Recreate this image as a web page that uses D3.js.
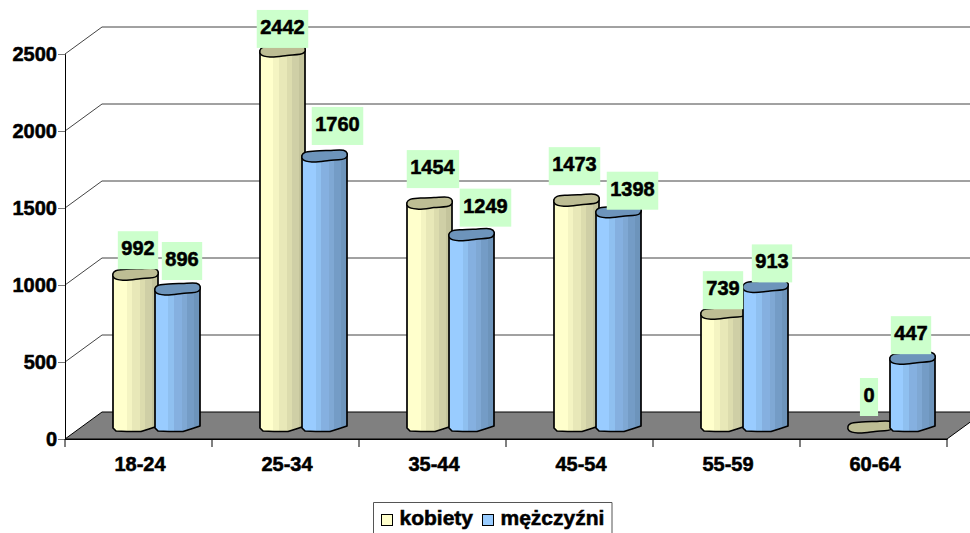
<!DOCTYPE html>
<html>
<head>
<meta charset="utf-8">
<script src="https://cdn.jsdelivr.net/npm/d3@7/dist/d3.min.js"></script>
<style>
  body { margin: 0; background: #fff; overflow: hidden; }
  text { font-family: "Liberation Sans", Arial, sans-serif; font-weight: bold; fill: #000; stroke: #000; stroke-width: .55px; }
</style>
</head>
<body>
<div id="chart"></div>
<script>
var categories = ["18-24", "25-34", "35-44", "45-54", "55-59", "60-64"];
var kobiety = [992, 2442, 1454, 1473, 739, 0];
var mezczyzni = [896, 1760, 1249, 1398, 913, 447];
var yTicks = [0, 500, 1000, 1500, 2000, 2500];
var seriesNames = ["kobiety", "mężczyźni"];

// hand placed labels in the original: shift from bar centre, gap above the cap
var labelShiftK = [3, 0.5, 3.5, -1.5, 0, -1];
var labelShiftM = [5, 13.5, 14.5, 14.5, 7, -1];
var labelGapK = [5, 3, 15, 15, 4, 11];
var labelGapM = [9, 11, 8, 2, 4, 4];

var width = 970, height = 533;
var depthX = 37, depthY = 27;

var svg = d3.select("#chart").append("svg")
    .attr("width", width)
    .attr("height", height);

var x0 = d3.scaleBand().domain(categories).range([65, 947]);
var x1 = d3.scaleBand().domain([0, 1]).range([48, 132]);
var y = d3.scaleLinear().domain([0, 2500]).range([439, 54]);
var barWidth = 45;

// faceted shading
var defs = svg.append("defs");
function facets(id, colors) {
  var g = defs.append("linearGradient").attr("id", id);
  var stops = [0, .3, .3, .42, .42, .6, .6, .72, .72, .86, .86, 1];
  stops.forEach(function(s, i) {
    g.append("stop").attr("offset", s).attr("stop-color", colors[Math.floor(i / 2)]);
  });
}
facets("shadeK", ["#ffffcc", "#f4f4c2", "#e8e8b8", "#dcdcae", "#cfcfa6", "#c4c49c"]);
facets("shadeM", ["#99ccff", "#8fc0f0", "#85b0e0", "#7fa8d4", "#749cc6", "#6d94bb"]);

// floor
var floorY = y(0);
svg.append("polygon")
  .attr("points", [[65, floorY], [947, floorY], [947 + depthX, floorY - depthY], [65 + depthX, floorY - depthY]].join(" "))
  .attr("fill", "#808080")
  .attr("stroke", "#000");

// grid lines on the walls
var grid = svg.append("g").selectAll("path").data(yTicks.slice(1)).enter();
grid.append("path")
  .attr("d", function(d) {
    return "M65," + y(d) + "L" + (65 + depthX) + "," + (y(d) - depthY) + "L" + width + "," + (y(d) - depthY);
  })
  .attr("fill", "none")
  .attr("stroke", "#444");

var yAxis = d3.axisLeft(y).tickValues(yTicks).tickSize(7).tickPadding(1).tickFormat(d3.format("d"));
var xAxis = d3.axisBottom(x0).tickSize(0).tickPadding(18);

var gy = svg.append("g").attr("transform", "translate(65,0)").call(yAxis);
gy.selectAll("text").style("font-size", "20px");
gy.selectAll("line").attr("stroke", "#777");
gy.select(".domain").attr("stroke", "#000");

var gx = svg.append("g").attr("transform", "translate(0," + floorY + ")").call(xAxis);
gx.selectAll("text").style("font-size", "20px").attr("dx", 1.5);
gx.select(".domain").attr("stroke", "#000");
gx.selectAll(".edge").data(d3.range(categories.length + 1)).enter().append("line")
  .attr("class", "edge")
  .attr("x1", function(i) { return 65 + i * x0.step(); })
  .attr("x2", function(i) { return 65 + i * x0.step(); })
  .attr("y2", 8)
  .attr("stroke", "#000");

// lumpy low-poly cylinder outlines, as the original was resampled
var capShape = [[0, -.7], [.06, -3.5], [.3, -5], [.6, -5.5], [.92, -5.7], [1, -3], [.97, 2], [.6, 4.5], [.22, 6], [.02, 3.5]];
var line = d3.line().curve(d3.curveCatmullRomClosed.alpha(.5));

function capPath(d) {
  var left = x0(d.cat) + x1(d.s), cy = y(d.v) - 12;
  return line(capShape.map(function(p) { return [left + p[0] * barWidth, cy + p[1]]; }));
}

function bodyPath(d) {
  var left = x0(d.cat) + x1(d.s), cy = y(d.v) - 12, base = y(0) - 8;
  var lines = d3.line();
  return lines([
    [left, cy], [left, base - 3], [left + 3, base], [left + 14, base + .5], [left + 28, base + .5],
    [left + 36, base - 2], [left + barWidth, base - 5], [left + barWidth, cy - 2]
  ]) + "Z";
}

var rows = [];
categories.forEach(function(c, i) {
  rows.push({cat: c, s: 0, v: kobiety[i], shift: labelShiftK[i], gap: labelGapK[i]});
  rows.push({cat: c, s: 1, v: mezczyzni[i], shift: labelShiftM[i], gap: labelGapM[i]});
});

var bars = svg.append("g").selectAll("g").data(rows).enter().append("g");

bars.filter(function(d) { return d.v > 0; }).append("path")
  .attr("d", bodyPath)
  .attr("fill", function(d) { return d.s ? "url(#shadeM)" : "url(#shadeK)"; })
  .attr("stroke", "#000")
  .attr("stroke-width", 1.7)
  .attr("stroke-linejoin", "round");

bars.append("path")
  .attr("d", capPath)
  .attr("fill", function(d) { return d.s ? "#6d94bb" : "#bdbd94"; })
  .attr("stroke", "#000")
  .attr("stroke-width", 1.5);

// value labels on green boxes
var labels = svg.append("g").selectAll("g").data(rows).enter().append("g")
  .attr("transform", function(d) {
    var cx = x0(d.cat) + x1(d.s) + 22 + d.shift;
    var bottom = y(d.v) - 12 - d.gap;
    return "translate(" + cx + "," + bottom + ")";
  });

labels.append("text")
  .attr("text-anchor", "middle")
  .attr("y", -14)
  .style("font-size", "20px")
  .text(function(d) { return d.v; })
  .each(function() {
    var b = this.getBBox();
    d3.select(this.parentNode).insert("rect", "text")
      .attr("x", b.x - 3.5)
      .attr("y", -38)
      .attr("width", b.width + 7)
      .attr("height", 38)
      .attr("fill", "#ccffcc");
  });

// legend, its lower edge falls off the picture
var legend = svg.append("g");
legend.append("path")
  .attr("d", "M373.5,533V502.5H612V533")
  .attr("fill", "none")
  .attr("stroke", "#555");
var legendX = [381.5, 482.5];
var legendFill = ["#ffffcc", "#99ccff"];
seriesNames.forEach(function(name, i) {
  legend.append("rect")
    .attr("x", legendX[i]).attr("y", 514.5)
    .attr("width", 11).attr("height", 11)
    .attr("fill", legendFill[i])
    .attr("stroke", "#000");
  legend.append("text")
    .attr("x", legendX[i] + 18).attr("y", 525)
    .style("font-size", "21px")
    .text(name);
});
</script>
</body>
</html>
